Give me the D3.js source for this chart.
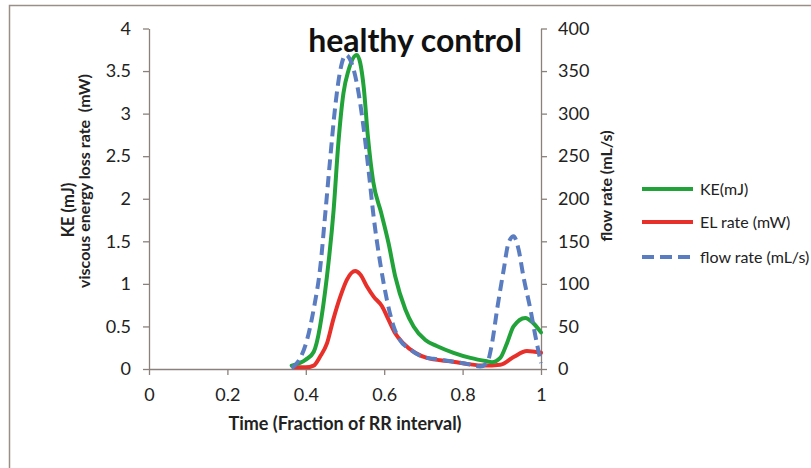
<!DOCTYPE html>
<html><head><meta charset="utf-8">
<script src="https://cdn.jsdelivr.net/npm/d3@7/dist/d3.min.js"></script>
<style>
body{margin:0;background:#fff;}
svg{display:block;font-family:Lato,"Open Sans",sans-serif;}
</style></head>
<body><svg id="c" width="811" height="468"></svg>
<script>
const keTime   = [0.364,0.40,0.42,0.454,0.471,0.483,0.496,0.509,0.530,0.548,0.558,0.572,0.592,0.611,0.628,0.654,0.675,0.705,0.734,0.777,0.82,0.862,0.875,0.896,0.913,0.93,0.96,0.98,1.0];
const keValues = [0.04,0.11,0.2,1.09,1.87,2.65,3.24,3.51,3.69,3.30,2.75,2.20,1.84,1.48,1.09,0.70,0.5,0.34,0.27,0.19,0.13,0.09,0.08,0.13,0.30,0.5,0.6,0.54,0.43];
const elTime   = [0.368,0.40,0.42,0.437,0.454,0.47,0.488,0.505,0.526,0.539,0.556,0.573,0.594,0.611,0.628,0.649,0.679,0.709,0.769,0.811,0.854,0.896,0.93,0.964,1.0];
const elValues = [0.02,0.02,0.04,0.15,0.30,0.58,0.85,1.05,1.15,1.11,0.97,0.85,0.74,0.58,0.42,0.30,0.19,0.13,0.09,0.06,0.04,0.05,0.14,0.21,0.19];
const flowTime   = [0.364,0.386,0.403,0.42,0.437,0.449,0.462,0.475,0.488,0.502,0.517,0.53,0.547,0.56,0.573,0.59,0.607,0.624,0.64,0.666,0.7,0.726,0.769,0.811,0.845,0.862,0.875,0.888,0.905,0.917,0.93,0.943,0.955,0.973,0.986,1.0];
const flowValues = [1,13,34,70,120,179,246,308,351,369,359,336,285,234,179,124,81,50,34,23,14,12,9,6,3,7,30,70,117,148,156,140,109,70,38,7];
const xTicks = [0,0.2,0.4,0.6,0.8,1];
const leftTicks = [0,0.5,1,1.5,2,2.5,3,3.5,4];
const rightTicks = [0,50,100,150,200,250,300,350,400];
const seriesNames = ["KE(mJ)","EL rate (mW)","flow rate (mL/s)"];
const titleText = "healthy control";
const xTitle = "Time (Fraction of RR interval)";
const leftTitle = ["KE (mJ)","viscous energy loss rate  (mW)"];
const rightTitle = "flow rate (mL/s)";

const svg = d3.select("#c");
const axisColor = "#8a817c";
const colors = {ke:"#22a33a", el:"#e8302a", flow:"#5a7cc0"};

// border
svg.append("path").attr("d","M9.5,470V5.5H811").attr("fill","none").attr("stroke","#9a8f88").attr("stroke-width",1.5);

const x = d3.scaleLinear().domain([0,1]).range([149,541]);
const yL = d3.scaleLinear().domain([0,4]).range([369,28.5]);
const yR = d3.scaleLinear().domain([0,400]).range([369,28.5]);

function styleAxis(g){
  g.select(".domain").attr("stroke",axisColor).attr("stroke-width",1.3);
  g.selectAll(".tick line").attr("stroke",axisColor).attr("stroke-width",1.3);
  g.selectAll(".tick text").attr("fill","#222").style("font-size","18px").style("font-family","Lato,sans-serif");
}
const gx = svg.append("g").attr("transform","translate(0,369)")
  .call(d3.axisBottom(x).tickValues(xTicks).tickSize(6).tickSizeOuter(0).tickPadding(13).tickFormat(d=>String(d)));
styleAxis(gx);
const gl = svg.append("g").attr("transform","translate(149,0)")
  .call(d3.axisLeft(yL).tickValues(leftTicks).tickSize(6).tickSizeOuter(0).tickPadding(12).tickFormat(d=>String(d)));
styleAxis(gl);
const gr = svg.append("g").attr("transform","translate(541,0)")
  .call(d3.axisRight(yR).tickValues(rightTicks).tickSize(6).tickSizeOuter(0).tickPadding(11).tickFormat(d=>String(d)));
styleAxis(gr);

const curve = d3.curveMonotoneX;
const lineL = d3.line().x(d=>x(d[0])).y(d=>yL(d[1])).curve(curve);
const lineR = d3.line().x(d=>x(d[0])).y(d=>yR(d[1])).curve(curve);

svg.append("path").datum(d3.zip(elTime,elValues)).attr("d",lineL)
  .attr("fill","none").attr("stroke",colors.el).attr("stroke-width",4).attr("stroke-linejoin","round").attr("stroke-linecap","round");
svg.append("path").datum(d3.zip(keTime,keValues)).attr("d",lineL)
  .attr("fill","none").attr("stroke",colors.ke).attr("stroke-width",4).attr("stroke-linejoin","round").attr("stroke-linecap","round");
svg.append("path").datum(d3.zip(flowTime,flowValues)).attr("d",lineR)
  .attr("fill","none").attr("stroke",colors.flow).attr("stroke-width",4).attr("stroke-dasharray","11,6");

// title
svg.append("text").attr("x",415).attr("y",52).attr("text-anchor","middle")
  .style("font-size","32px").style("font-weight","bold").attr("fill","#111").text(titleText);

// axis titles
svg.append("text").attr("x",345).attr("y",430).attr("text-anchor","middle")
  .style("font-size","18px").style("font-weight","bold").attr("fill","#222").text(xTitle);
svg.append("text").attr("transform","translate(74,210) rotate(-90)").attr("text-anchor","middle")
  .style("font-size","16.5px").style("font-weight","bold").attr("fill","#222").text(leftTitle[0]);
svg.append("text").attr("transform","translate(90,181) rotate(-90)").attr("text-anchor","middle")
  .style("font-size","16px").style("font-weight","bold").attr("fill","#222").style("white-space","pre").text(leftTitle[1]);
svg.append("text").attr("transform","translate(612,186) rotate(-90)").attr("text-anchor","middle")
  .style("font-size","16px").style("font-weight","bold").attr("fill","#222").text(rightTitle);

// legend
const legY = [189,222,257];
const legKeys = ["ke","el","flow"];
legKeys.forEach((k,i)=>{
  const g = svg.append("g");
  g.append("line").attr("x1",642).attr("x2",693).attr("y1",legY[i]).attr("y2",legY[i])
    .attr("stroke",colors[k]).attr("stroke-width",4)
    .attr("stroke-dasharray",k==="flow"?"12,6":null);
  g.append("text").attr("x",700).attr("y",legY[i]+6).style("font-size","16px").attr("fill","#222").text(seriesNames[i]);
});
</script></body></html>
